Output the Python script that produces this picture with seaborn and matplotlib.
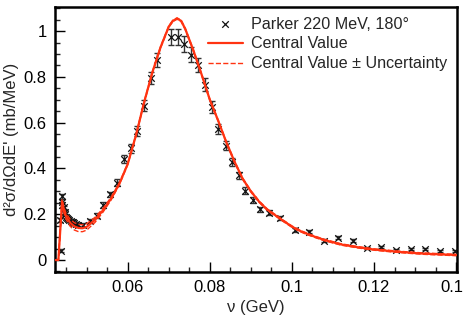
import numpy as np
import pandas as pd
import matplotlib
matplotlib.use('Agg')
import matplotlib.pyplot as plt
from matplotlib.ticker import MultipleLocator
import seaborn as sns

# Parker 220 MeV, 180 deg data
nu_data = [0.0437, 0.0435, 0.0439, 0.0440, 0.0441,
           0.0444, 0.0446, 0.0448, 0.0450, 0.0452, 0.0455, 0.0458, 0.0461, 0.0464, 0.0467, 0.0470, 0.0474, 0.0478,
           0.0492, 0.0508, 0.0524, 0.0540, 0.0557, 0.0575, 0.0590, 0.0607, 0.0623, 0.0640, 0.0657, 0.0672,
           0.0705, 0.0722, 0.0738, 0.0754, 0.0772, 0.0789, 0.0805, 0.0821, 0.0839, 0.0855, 0.0870, 0.0886,
           0.0904, 0.0921, 0.0945, 0.0971, 0.1008, 0.1042, 0.1077, 0.1111, 0.1148, 0.1183, 0.1218, 0.1254,
           0.1289, 0.1325, 0.1360, 0.1396]
xs_data = [0.041, 0.175, 0.240, 0.255, 0.278,
           0.230, 0.210, 0.200, 0.190, 0.185, 0.180, 0.175, 0.170, 0.168, 0.165, 0.160, 0.158, 0.155,
           0.153, 0.170, 0.194, 0.240, 0.287, 0.338, 0.440, 0.489, 0.565, 0.674, 0.795, 0.875,
           0.975, 0.975, 0.944, 0.897, 0.853, 0.766, 0.668, 0.572, 0.500, 0.428, 0.370, 0.303,
           0.263, 0.222, 0.207, 0.184, 0.131, 0.124, 0.085, 0.098, 0.085, 0.054, 0.056, 0.044,
           0.047, 0.049, 0.039, 0.039]
err_data = [0.008, 0.010, 0.012, 0.012, 0.012,
            0.008, 0.008, 0.008, 0.008, 0.008, 0.008, 0.008, 0.008, 0.008, 0.008, 0.008, 0.008, 0.008,
            0.008, 0.008, 0.010, 0.012, 0.012, 0.015, 0.018, 0.020, 0.022, 0.025, 0.028, 0.030,
            0.035, 0.035, 0.035, 0.032, 0.030, 0.028, 0.025, 0.022, 0.020, 0.018, 0.016, 0.014,
            0.012, 0.010, 0.010, 0.009, 0.008, 0.007, 0.006, 0.006, 0.006, 0.005, 0.005, 0.005,
            0.005, 0.005, 0.005, 0.005]

# model curve: central value and its uncertainty
nu_model = [0.0423, 0.0431, 0.0440, 0.0445, 0.0450, 0.0460, 0.0470, 0.0480, 0.0490, 0.0500,
            0.0520, 0.0540, 0.0560, 0.0580, 0.0600, 0.0620, 0.0640, 0.0660, 0.0680, 0.0700,
            0.0710, 0.0720, 0.0730, 0.0740, 0.0760, 0.0780, 0.0800, 0.0820, 0.0840, 0.0860,
            0.0880, 0.0900, 0.0920, 0.0940, 0.0960, 0.0980, 0.1000, 0.1020, 0.1040, 0.1060,
            0.1080, 0.1120, 0.1160, 0.1200, 0.1240, 0.1280, 0.1320, 0.1360, 0.1400]
central = [0.0, 0.0, 0.255, 0.215, 0.190, 0.162, 0.147, 0.140, 0.139, 0.145,
           0.175, 0.218, 0.270, 0.335, 0.420, 0.545, 0.690, 0.820, 0.930, 1.020,
           1.045, 1.055, 1.045, 1.010, 0.915, 0.810, 0.700, 0.610, 0.515, 0.430,
           0.355, 0.300, 0.255, 0.220, 0.195, 0.170, 0.146, 0.127, 0.112, 0.099,
           0.087, 0.068, 0.056, 0.046, 0.039, 0.033, 0.028, 0.025, 0.022]
uncert = [0.0, 0.0, 0.010, 0.011, 0.013, 0.015, 0.016, 0.016, 0.015, 0.014,
          0.011, 0.008, 0.006, 0.004, 0.003, 0.003, 0.003, 0.003, 0.003, 0.003,
          0.003, 0.003, 0.003, 0.003, 0.003, 0.003, 0.003, 0.003, 0.003, 0.003,
          0.003, 0.003, 0.003, 0.003, 0.003, 0.003, 0.003, 0.003, 0.003, 0.003,
          0.003, 0.003, 0.003, 0.003, 0.003, 0.003, 0.003, 0.003, 0.003]

sns.set_style('ticks')
plt.rcParams['font.family'] = ['Liberation Sans', 'DejaVu Sans']

red = '#ff3311'
df = pd.DataFrame({'nu': nu_data, 'xs': xs_data, 'err': err_data})
model = pd.DataFrame({'nu': nu_model, 'central': central,
                      'lo': np.array(central) - np.array(uncert),
                      'hi': np.array(central) + np.array(uncert)})

fig, ax = plt.subplots(figsize=(4.63, 3.27), dpi=100)
fig.subplots_adjust(left=0.119, right=0.987, bottom=0.168, top=0.979)

ax.errorbar(df['nu'], df['xs'], yerr=df['err'], fmt='none', ecolor='#333333',
            elinewidth=1.0, capsize=2.5, capthick=1.0, zorder=2)
sns.scatterplot(data=df, x='nu', y='xs', marker='x', color='#111111', s=22,
                linewidth=0.9, ax=ax, zorder=3, label='Parker 220 MeV, 180°')
sns.lineplot(data=model, x='nu', y='lo', color=red, lw=1.0, ls='--', ax=ax, zorder=4)
sns.lineplot(data=model, x='nu', y='hi', color=red, lw=1.0, ls='--', ax=ax, zorder=4,
             label='Central Value ± Uncertainty')
sns.lineplot(data=model, x='nu', y='central', color=red, lw=1.6, ax=ax, zorder=5,
             label='Central Value')

ax.set_xlim(0.0423, 0.1402)
ax.set_ylim(-0.0525, 1.106)
ax.xaxis.set_major_locator(MultipleLocator(0.02))
ax.xaxis.set_minor_locator(MultipleLocator(0.005))
ax.yaxis.set_major_locator(MultipleLocator(0.2))
ax.yaxis.set_minor_locator(MultipleLocator(0.05))
ax.xaxis.set_major_formatter(plt.FuncFormatter(lambda v, p: f'{v:g}'))
ax.yaxis.set_major_formatter(plt.FuncFormatter(lambda v, p: f'{v:g}' if abs(v) > 1e-9 else '0'))
ax.tick_params(which='major', direction='in', length=7, width=1.0, labelsize=12, colors='black', pad=6)
ax.tick_params(which='minor', direction='in', length=3.5, width=1.0)
for s in ax.spines.values():
    s.set_linewidth(1.8)
    s.set_color('black')

ax.set_xlabel('ν (GeV)', fontsize=12, labelpad=3)
ax.set_ylabel("d²σ/dΩdE' (mb/MeV)", fontsize=12, labelpad=3)

h, l = ax.get_legend_handles_labels()
order = [l.index('Parker 220 MeV, 180°'), l.index('Central Value'), l.index('Central Value ± Uncertainty')]
ax.legend([h[i] for i in order], [l[i] for i in order], loc='upper right', frameon=False,
          fontsize=11.6, handlelength=2.2, borderaxespad=0.2, labelspacing=0.3, handletextpad=0.5)

fig.savefig('out.png', dpi=100)
